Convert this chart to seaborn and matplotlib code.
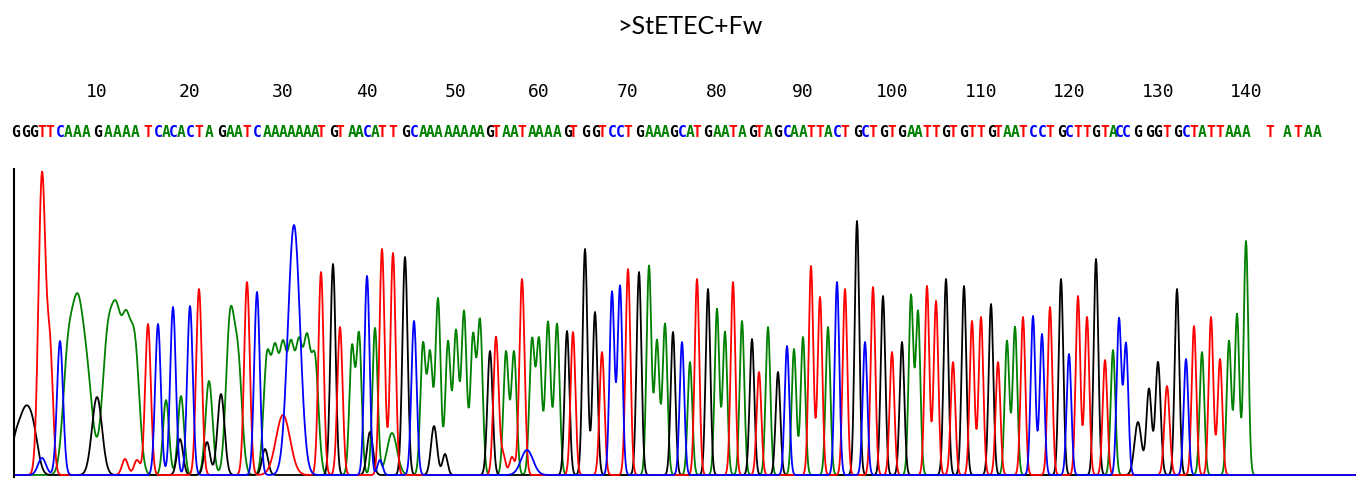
import numpy as np
import pandas as pd
import matplotlib
matplotlib.use("Agg")
import matplotlib.pyplot as plt
import seaborn as sns

# ---------------- data ----------------
title = ">StETEC+Fw"

# base calls (letter), peak position (scan units = px), peak height, peak width
bases = ("GGGTTCAAAG" "AAAATCACAC" "TAGAATCAAA" "AAAATGTAAC" "ATTGCAAAAA"
         "AAAGTAATAA" "AAGTGGTCCT" "GAAAGCATGA" "ATAGTAGCAA" "TTACTGCTGT"
         "GAATTGTGTT" "GTAATCCTGC" "TTGTACCGGG" "TGCTATTAAA" "TATAA")

base_x = [16, 25, 33, 42, 50, 60, 68, 77, 86, 97,
          108, 117, 126, 135, 148, 158, 166, 173, 181, 190,
          199, 209, 221, 230, 238, 247, 257, 267, 275, 283,
          291, 299, 307, 315, 321, 333, 340, 352, 359, 367,
          375, 382, 393, 405, 414, 423, 430, 438, 448, 456,
          464, 473, 480, 490, 496, 506, 514, 522, 532, 539,
          548, 557, 567, 573, 585, 595, 602, 612, 620, 628,
          639, 649, 657, 665, 673, 682, 690, 697, 708, 717,
          725, 733, 742, 752, 759, 768, 778, 787, 794, 803,
          811, 820, 828, 837, 845, 857, 865, 873, 883, 892,
          902, 911, 918, 927, 936, 946, 953, 964, 972, 981,
          991, 998, 1007, 1015, 1023, 1033, 1042, 1050, 1061, 1069,
          1078, 1087, 1096, 1105, 1113, 1119, 1126, 1138, 1149, 1158,
          1167, 1177, 1186, 1194, 1202, 1211, 1220, 1229, 1237, 1246,
          1270, 1287, 1298, 1308, 1317]

base_height = [35, 50, 42, 300, 120, 134, 115, 125, 105, 78,
               138, 118, 132, 122, 151, 151, 75, 168, 79, 169,
               186, 94, 81, 150, 110, 193, 183, 115, 115, 118,
               118, 120, 125, 112, 203, 211, 148, 127, 140, 199,
               147, 226, 222, 218, 154, 130, 120, 176, 133, 143,
               163, 138, 153, 124, 138, 123, 123, 196, 134, 134,
               153, 151, 144, 143, 226, 163, 123, 183, 189, 206,
               203, 209, 134, 151, 143, 133, 113, 196, 186, 166,
               143, 193, 154, 136, 103, 148, 103, 129, 126, 138,
               209, 178, 148, 193, 186, 254, 133, 188, 179, 123,
               133, 179, 163, 189, 174, 196, 113, 189, 154, 158,
               171, 113, 134, 148, 158, 159, 141, 168, 196, 121,
               179, 158, 216, 115, 125, 156, 131, 53, 86, 113,
               89, 186, 116, 149, 123, 158, 116, 134, 161, 234,
               0, 0, 0, 0, 0]

base_width = [5, 5, 5, 3.5, 3, 3, 5, 5, 6, 5,
              5.5, 4.5, 4.5, 4.5, 2.8, 2.8, 3, 2.8, 3, 2.8,
              2.8, 3.5, 3.5, 4, 4, 2.8, 2.8, 3.5, 3.5, 3.5,
              3.5, 3.5, 3.5, 3.5] + [2.6] * 28 + [2.4] * 12 + [2.3] * 53 + \
             [3.5, 2.6, 2.6, 2.6] + [2.3] * 9 + [2.3] * 5

# secondary (uncalled) peaks: channel, position, height, width
extra_base = ["G", "G", "G", "G", "G", "G",
              "T", "T", "T", "T", "T",
              "C", "C", "C", "C",
              "A"]
extra_x = [180, 207, 265, 370, 434, 445,
           125, 137, 283, 503, 512,
           42, 294, 380, 527,
           392]
extra_height = [36, 33, 26, 43, 49, 21,
                16, 15, 60, 20, 18,
                17, 250, 15, 25,
                42]
extra_width = [3, 3, 3, 3, 3, 2.5,
               3, 3, 7, 2.5, 2.5,
               4, 6, 2.5, 6,
               5]

channel_order = ["A", "G", "T", "C"]
channel_colors = {"A": "#008000", "G": "#000000", "T": "#FF0000", "C": "#0000FF"}

# ---------------- build traces ----------------
scan = np.arange(14, 1356.5, 0.5)
rows = []
for ch in channel_order:
    sig = np.zeros_like(scan)
    for b, x, h, w in zip(bases, base_x, base_height, base_width):
        if b == ch and h > 0:
            sig += h * np.exp(-0.5 * ((scan - x) / w) ** 2)
    for b, x, h, w in zip(extra_base, extra_x, extra_height, extra_width):
        if b == ch:
            sig += h * np.exp(-0.5 * ((scan - x) / w) ** 2)
    rows.append(pd.DataFrame({"scan": scan, "signal": sig, "base": ch}))
trace = pd.concat(rows, ignore_index=True)

# ---------------- figure ----------------
sns.set_theme(style="white")
W, H = 1356, 481
fig = plt.figure(figsize=(W / 100, H / 100), dpi=100)
fig.patch.set_facecolor("white")

ax = fig.add_axes([14 / W, 3 / H, (W - 14) / W, 308 / H])
sns.lineplot(data=trace, x="scan", y="signal", hue="base", hue_order=channel_order,
             palette=channel_colors, estimator=None, sort=False, linewidth=1.3,
             legend=False, ax=ax)
ax.set_xlim(14, W)
ax.set_ylim(-2, 306)
ax.set_xlabel("")
ax.set_ylabel("")
ax.set_xticks([])
ax.set_yticks([])
for s in ["top", "right", "bottom"]:
    ax.spines[s].set_visible(False)
ax.spines["left"].set_color("black")
ax.spines["left"].set_linewidth(1.5)
ax.set_facecolor("white")

mono = ["DejaVu Sans Mono", "DejaVu Sans"]

fig.text(690 / W, 1 - 27 / H, title, ha="center", va="center",
         fontsize=18, family=["Lato", "DejaVu Sans"], color="black")

for n in range(10, len(bases) + 1, 10):
    if n - 1 < len(base_x) and base_height[n - 1] > 0:
        fig.text(base_x[n - 1] / W, 1 - 92 / H, str(n), ha="center", va="center",
                 fontsize=13, family=mono, color="black")

for b, x in zip(bases, base_x):
    fig.text(x / W, 1 - 133 / H, b, ha="center", va="center", fontsize=10.5,
             fontweight="bold", family=mono, color=channel_colors[b])

fig.savefig("out.png", dpi=100)
